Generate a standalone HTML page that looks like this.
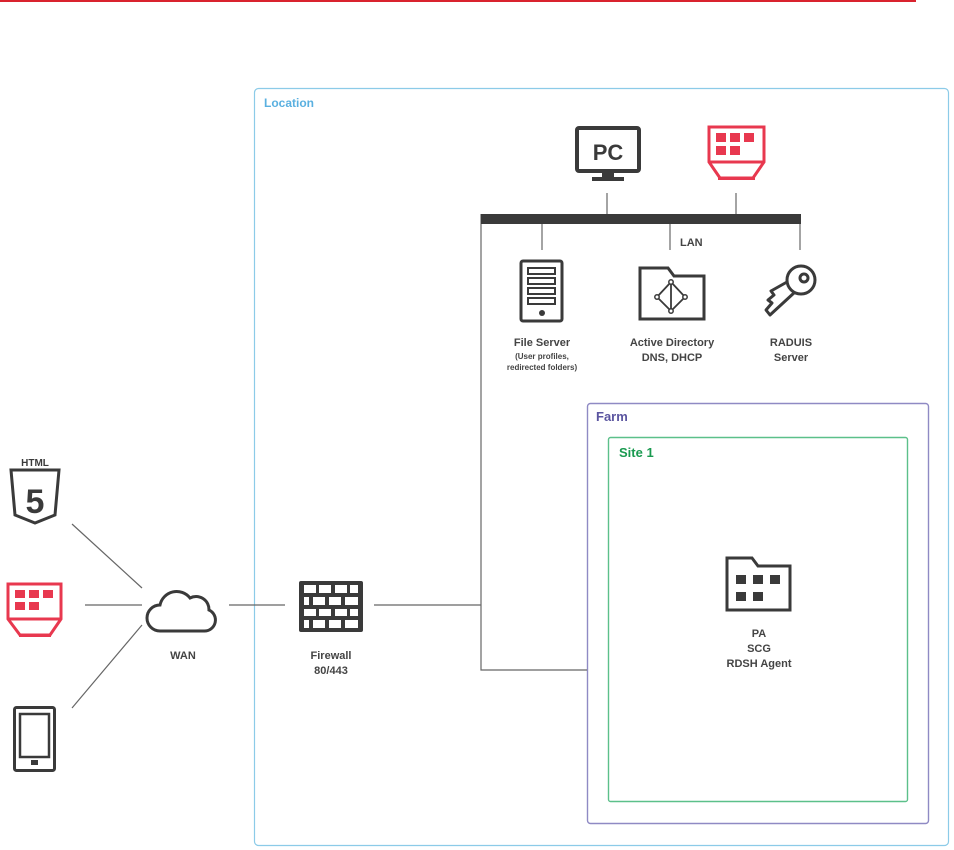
<!DOCTYPE html>
<html><head><meta charset="utf-8"><style>
html,body{margin:0;padding:0;background:#fff;}
svg{display:block;}
text{font-family:"Liberation Sans",sans-serif;font-weight:bold;}
</style></head><body>
<svg width="954" height="850" viewBox="0 0 954 850" xmlns="http://www.w3.org/2000/svg">
<rect x="0" y="0" width="916" height="2" fill="#d9232e"/>
<!-- boxes -->
<rect x="254.5" y="88.5" width="694" height="757" rx="4" fill="none" stroke="#8ccbe8" stroke-width="1.2"/>
<text x="264" y="107" font-size="12" fill="#5ab0e0">Location</text>
<rect x="587.5" y="403.5" width="341" height="420" rx="3" fill="none" stroke="#8f8ac4" stroke-width="1.4"/>
<text x="596" y="421" font-size="13" fill="#5b55a0">Farm</text>
<rect x="608.5" y="437.5" width="299" height="364" rx="2" fill="none" stroke="#5cc08a" stroke-width="1.4"/>
<text x="619" y="457" font-size="13" fill="#1a9a50">Site 1</text>

<!-- connectors -->
<g stroke="#666" stroke-width="1.2" fill="none">
<line x1="72" y1="524" x2="142" y2="588"/>
<line x1="85" y1="605" x2="142" y2="605"/>
<line x1="72" y1="708" x2="142" y2="625"/>
<line x1="229" y1="605" x2="285" y2="605"/>
<line x1="374" y1="605" x2="481" y2="605"/>
<polyline points="481,214 481,670 587,670"/>
<line x1="607" y1="193" x2="607" y2="214"/>
<line x1="736" y1="193" x2="736" y2="214"/>
<line x1="542" y1="224" x2="542" y2="250"/>
<line x1="670" y1="224" x2="670" y2="250"/>
<line x1="800" y1="224" x2="800" y2="250"/>
</g>
<rect x="481" y="214" width="320" height="10" fill="#3a3a3a"/>
<text x="680" y="246" font-size="11" fill="#444">LAN</text>

<!-- PC -->
<rect x="577" y="128" width="62" height="43" rx="2" fill="none" stroke="#3a3a3a" stroke-width="4"/>
<text x="608" y="160" font-size="22" fill="#3a3a3a" text-anchor="middle">PC</text>
<rect x="602" y="171" width="12" height="6" fill="#3a3a3a"/>
<rect x="592" y="177" width="32" height="4" fill="#3a3a3a"/>
<!-- red device top -->
<g fill="#e8384f" stroke="#e8384f">
<path d="M709 127 H764 V162 L753 178 H720 L709 162 Z" fill="none" stroke-width="3"/>
<line x1="709" y1="162" x2="764" y2="162" stroke-width="3"/>
<rect x="716" y="133" width="10" height="9" stroke="none"/><rect x="730" y="133" width="10" height="9" stroke="none"/><rect x="744" y="133" width="10" height="9" stroke="none"/>
<rect x="716" y="146" width="10" height="9" stroke="none"/><rect x="730" y="146" width="10" height="9" stroke="none"/>
<rect x="718" y="177" width="37" height="3" stroke="none"/>
</g>

<!-- file server -->
<rect x="521" y="261" width="41" height="60" rx="2" fill="none" stroke="#3a3a3a" stroke-width="3"/>
<g fill="none" stroke="#3a3a3a" stroke-width="2">
<rect x="528" y="268" width="27" height="6"/><rect x="528" y="278" width="27" height="6"/><rect x="528" y="288" width="27" height="6"/><rect x="528" y="298" width="27" height="6"/>
</g>
<circle cx="542" cy="313" r="3" fill="#3a3a3a"/>
<text x="542" y="346" font-size="11" fill="#444" text-anchor="middle">File Server</text>
<text x="542" y="359" font-size="8" fill="#444" text-anchor="middle">(User profiles,</text>
<text x="542" y="370" font-size="8" fill="#444" text-anchor="middle">redirected folders)</text>
<!-- AD folder -->
<path d="M640 268 H668 L674 276 H704 V319 H640 Z" fill="none" stroke="#3a3a3a" stroke-width="3"/>
<g fill="none" stroke="#3a3a3a" stroke-width="1.8">
<polygon points="671,282 685,297 671,311 657,297"/>
<line x1="671" y1="282" x2="671" y2="311"/>
</g>
<g fill="#fff" stroke="#3a3a3a" stroke-width="1.5">
<circle cx="671" cy="282" r="2.2"/><circle cx="685" cy="297" r="2.2"/><circle cx="671" cy="311" r="2.2"/><circle cx="657" cy="297" r="2.2"/>
</g>
<text x="672" y="346" font-size="11" fill="#444" text-anchor="middle">Active Directory</text>
<text x="672" y="361" font-size="11" fill="#444" text-anchor="middle">DNS, DHCP</text>
<!-- key -->
<g fill="none" stroke="#3a3a3a" stroke-width="3" stroke-linejoin="round">
<path d="M795 292 L770 315 L766 310 L772 303 L768 300 L774 295 L771 291 L787 282"/>
<circle cx="801" cy="280" r="14"/>
<circle cx="804" cy="278" r="4"/>
</g>
<text x="791" y="346" font-size="11" fill="#444" text-anchor="middle">RADUIS</text>
<text x="791" y="361" font-size="11" fill="#444" text-anchor="middle">Server</text>

<!-- HTML5 -->
<text x="35" y="466" font-size="10" fill="#3a3a3a" text-anchor="middle">HTML</text>
<path d="M11 470 H59 L55 515 L35 523 L15 515 Z" fill="none" stroke="#3a3a3a" stroke-width="3"/>
<text x="35" y="513" font-size="34" fill="#3a3a3a" text-anchor="middle">5</text>
<!-- red device left -->
<g fill="#e8384f" stroke="#e8384f">
<path d="M8 584 H61 V619 L50 635 H20 L8 619 Z" fill="none" stroke-width="3"/>
<line x1="8" y1="619" x2="61" y2="619" stroke-width="3"/>
<rect x="15" y="590" width="10" height="8" stroke="none"/><rect x="29" y="590" width="10" height="8" stroke="none"/><rect x="43" y="590" width="10" height="8" stroke="none"/>
<rect x="15" y="602" width="10" height="8" stroke="none"/><rect x="29" y="602" width="10" height="8" stroke="none"/>
<rect x="19" y="634" width="32" height="3" stroke="none"/>
</g>
<!-- phone -->
<rect x="14.5" y="707.5" width="40" height="63" rx="2" fill="none" stroke="#3a3a3a" stroke-width="3"/>
<rect x="20" y="714" width="29" height="43" fill="none" stroke="#3a3a3a" stroke-width="2.5"/>
<rect x="31" y="760" width="7" height="5" fill="#3a3a3a"/>
<!-- cloud -->
<path d="M160 631 H204 A11 11 0 0 0 209 610 A13 13 0 0 0 190 598 A17 17 0 0 0 160 605 A13 13 0 0 0 160 631 Z" fill="none" stroke="#3a3a3a" stroke-width="3"/>
<text x="183" y="659" font-size="11" fill="#444" text-anchor="middle">WAN</text>
<!-- firewall -->
<rect x="299" y="581" width="64" height="51" rx="2" fill="#3a3a3a"/>
<g fill="#fff">
<rect x="304" y="585" width="12" height="8"/><rect x="319" y="585" width="12" height="8"/><rect x="335" y="585" width="12" height="8"/><rect x="350" y="585" width="8" height="8"/>
<rect x="304" y="597" width="5" height="8"/><rect x="313" y="597" width="12" height="8"/><rect x="329" y="597" width="12" height="8"/><rect x="345" y="597" width="13" height="8"/>
<rect x="304" y="609" width="12" height="7"/><rect x="319" y="609" width="12" height="7"/><rect x="335" y="609" width="12" height="7"/><rect x="350" y="609" width="8" height="7"/>
<rect x="304" y="620" width="5" height="8"/><rect x="313" y="620" width="12" height="8"/><rect x="329" y="620" width="12" height="8"/><rect x="345" y="620" width="13" height="8"/>
</g>
<text x="331" y="659" font-size="11" fill="#444" text-anchor="middle">Firewall</text>
<text x="331" y="674" font-size="11" fill="#444" text-anchor="middle">80/443</text>

<!-- PA folder -->
<path d="M727 558 H752 L758 566 H790 V610 H727 Z" fill="none" stroke="#3a3a3a" stroke-width="3"/>
<g fill="#3a3a3a">
<rect x="736" y="575" width="10" height="9"/><rect x="753" y="575" width="10" height="9"/><rect x="770" y="575" width="10" height="9"/>
<rect x="736" y="592" width="10" height="9"/><rect x="753" y="592" width="10" height="9"/>
</g>
<text x="759" y="637" font-size="11" fill="#444" text-anchor="middle">PA</text>
<text x="759" y="652" font-size="11" fill="#444" text-anchor="middle">SCG</text>
<text x="759" y="667" font-size="11" fill="#444" text-anchor="middle">RDSH Agent</text>
</svg>
</body></html>
